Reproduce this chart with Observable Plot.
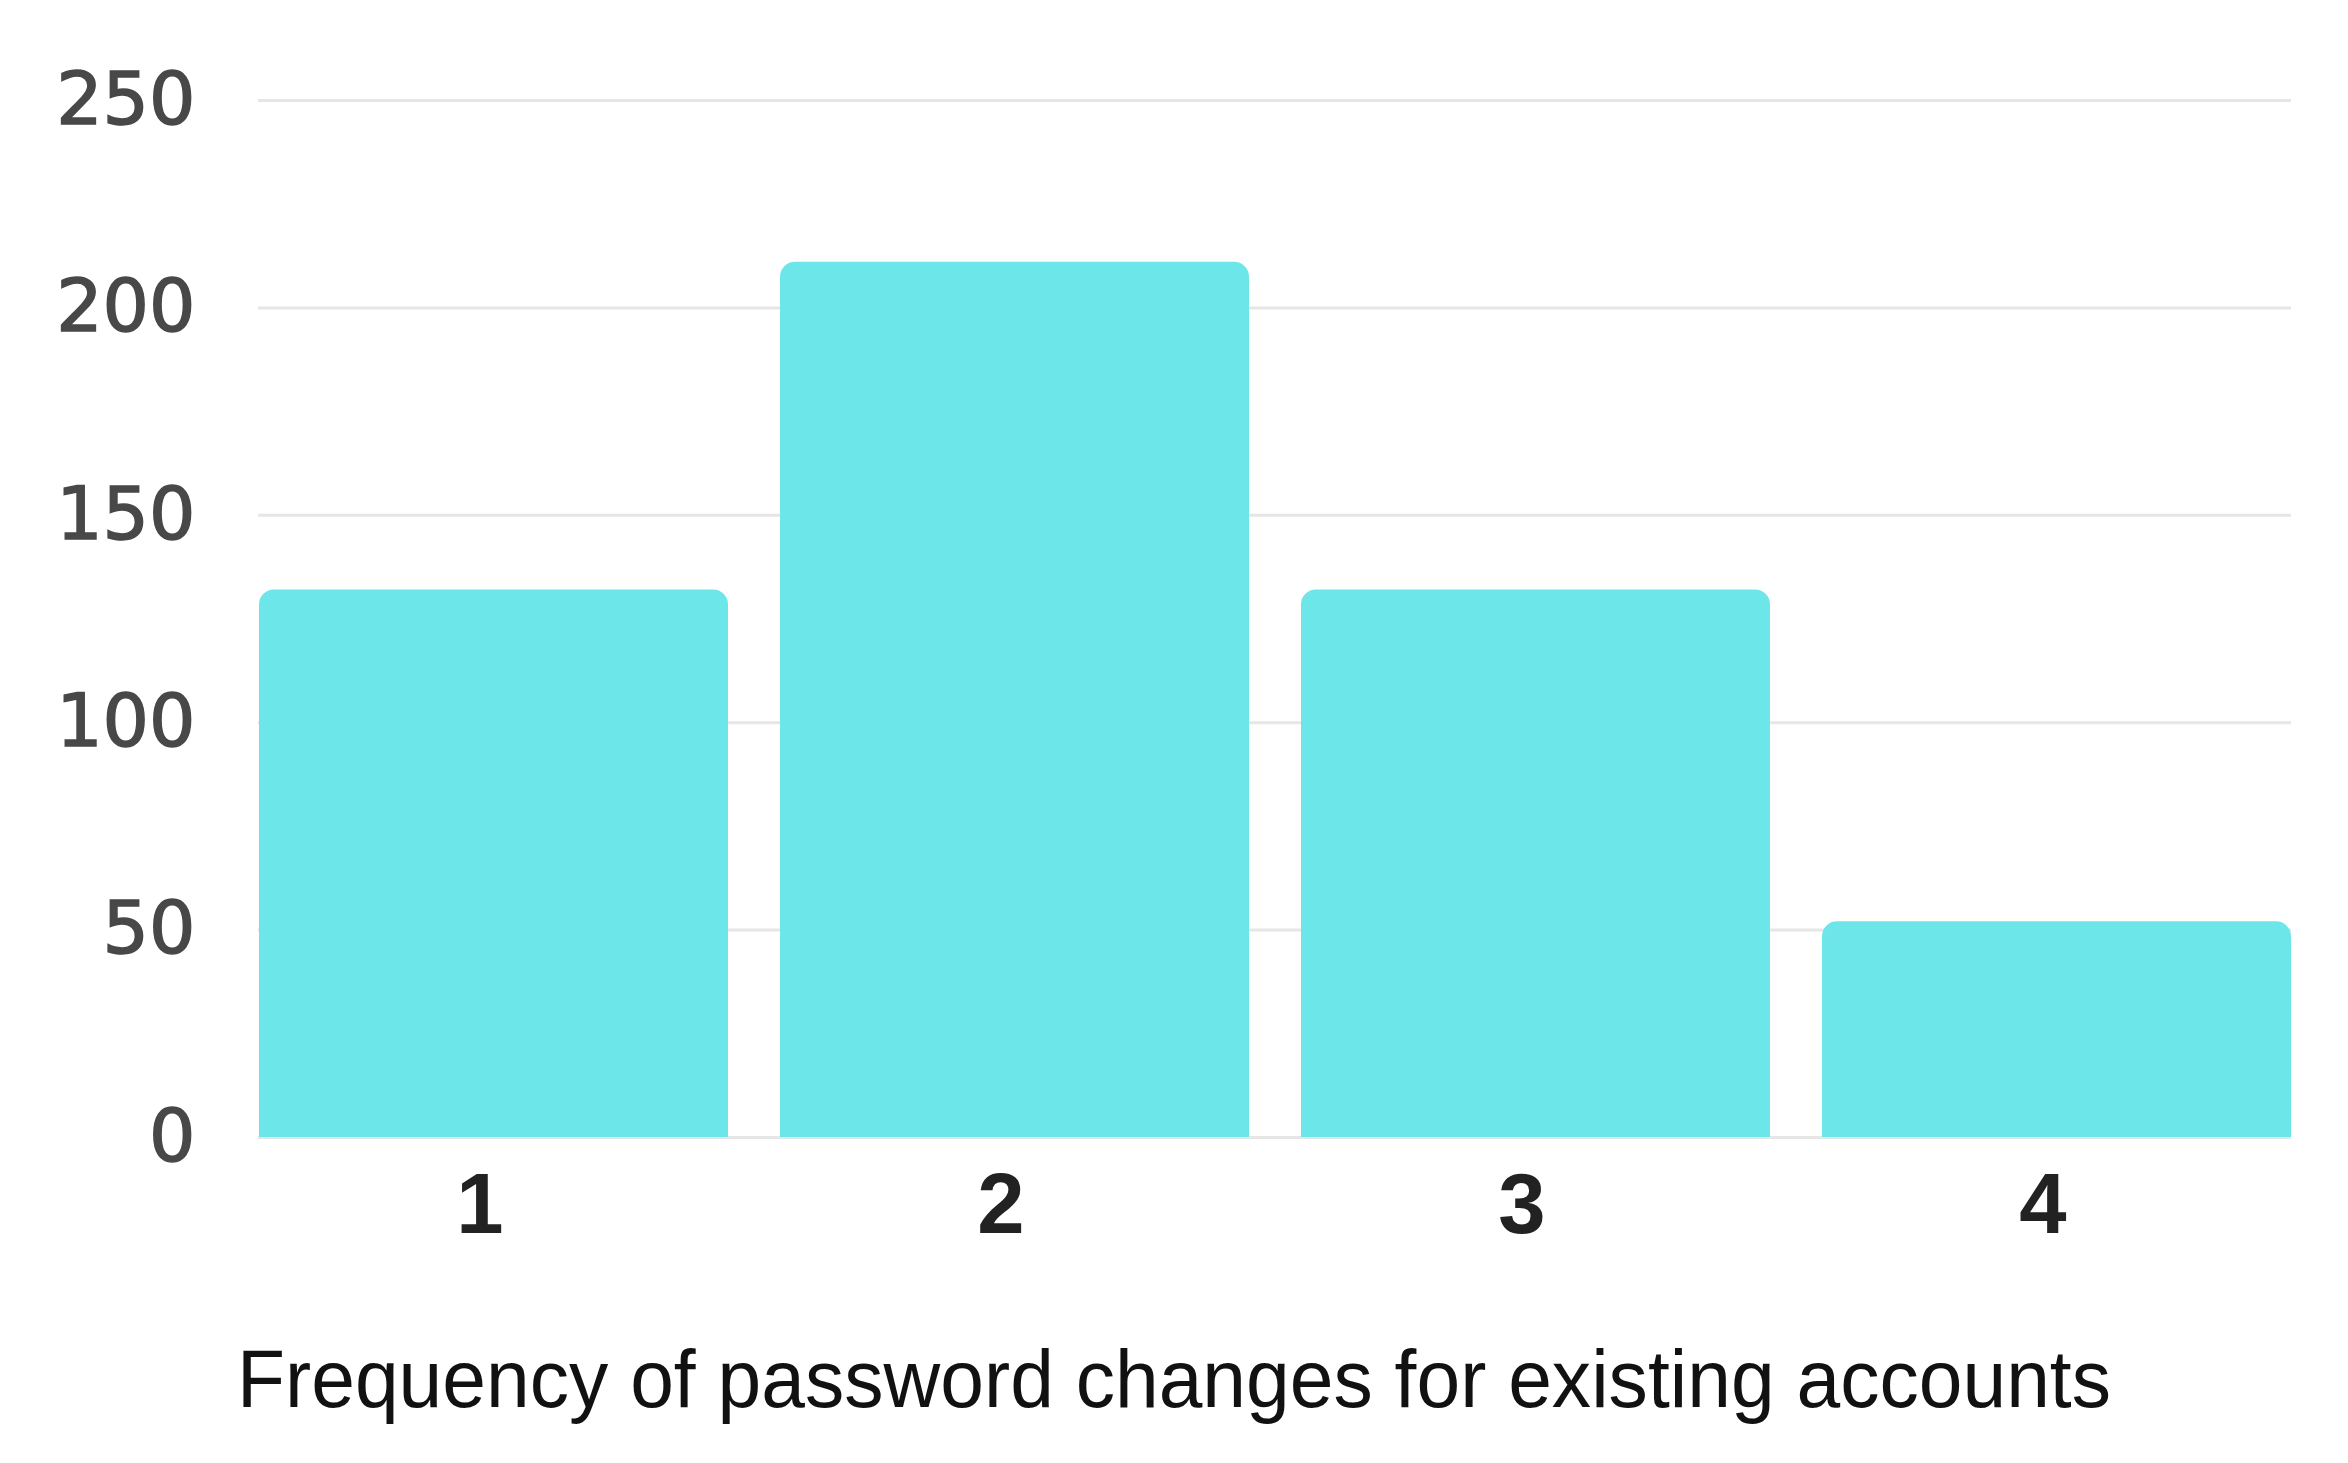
<!DOCTYPE html>
<html>
<head>
<meta charset="utf-8">
<script src="https://cdn.jsdelivr.net/npm/d3@7"></script>
<script src="https://cdn.jsdelivr.net/npm/@observablehq/plot@0.6"></script>
<style>
  html, body { margin: 0; padding: 0; background: #ffffff; overflow: hidden; }
  #chart svg { display: block; }
</style>
</head>
<body>
<div id="chart"></div>
<script>
// Data
const categories = ["1", "2", "3", "4"];
const counts = [132, 211, 132, 52];
const yTicks = [0, 50, 100, 150, 200, 250];
const xTitle = "Frequency of password changes for existing accounts";

const data = categories.map((c, i) => ({category: c, count: counts[i]}));

const W = 2348, H = 1463;

// top-only rounding if the Plot version supports it
const ver = (Plot.version || "0.6.0").split(".").map(Number);
const supportsCorners = ver[0] > 0 || ver[1] > 6 || (ver[1] === 6 && ver[2] >= 12);
const cornerOpts = supportsCorners ? {ry1: 15} : {rx: 15};

const chart = Plot.plot({
  width: W,
  height: H,
  marginLeft: 258,
  marginRight: 57,
  marginTop: 100,
  marginBottom: 326,
  style: {background: "#ffffff", fontFamily: "Liberation Sans, Arial, sans-serif"},
  x: {type: "band", domain: categories, paddingInner: 0.1, paddingOuter: 0, label: null},
  y: {domain: [0, 250], label: null},
  marks: [
    Plot.gridY(yTicks, {stroke: "#e6e6e6", strokeOpacity: 1, strokeWidth: 3}),
    Plot.barY(data, {x: "category", y: "count", fill: "#6de6e9", ...cornerOpts}),
    Plot.axisY(yTicks, {
      tickSize: 0, tickPadding: 63, fontSize: 73,
      fontFamily: "DejaVu Sans, sans-serif", color: "#484848", fill: "#484848",
      label: null
    }),
    Plot.axisX({
      tickSize: 0, tickPadding: 35, fontSize: 85, fontWeight: "bold",
      fontFamily: "Liberation Sans, Arial, sans-serif", color: "#222222", fill: "#222222",
      dx: -14, label: null
    })
  ]
});

document.getElementById("chart").appendChild(chart);

// heavier y tick labels, as in the reference
d3.select(chart).selectAll("[aria-label='y-axis tick label'] text, g[aria-label='y-axis tick label']")
  .attr("stroke", "#484848").attr("stroke-width", 1.5);

// axis title, centred on the full figure as in the reference
d3.select(chart).append("text")
  .attr("x", W / 2)
  .attr("y", 1407)
  .attr("text-anchor", "middle")
  .attr("font-family", "Liberation Sans, Arial, sans-serif")
  .attr("font-size", 81)
  .attr("fill", "#111111")
  .attr("textLength", 1874)
  .attr("lengthAdjust", "spacingAndGlyphs")
  .text(xTitle);
</script>
</body>
</html>
